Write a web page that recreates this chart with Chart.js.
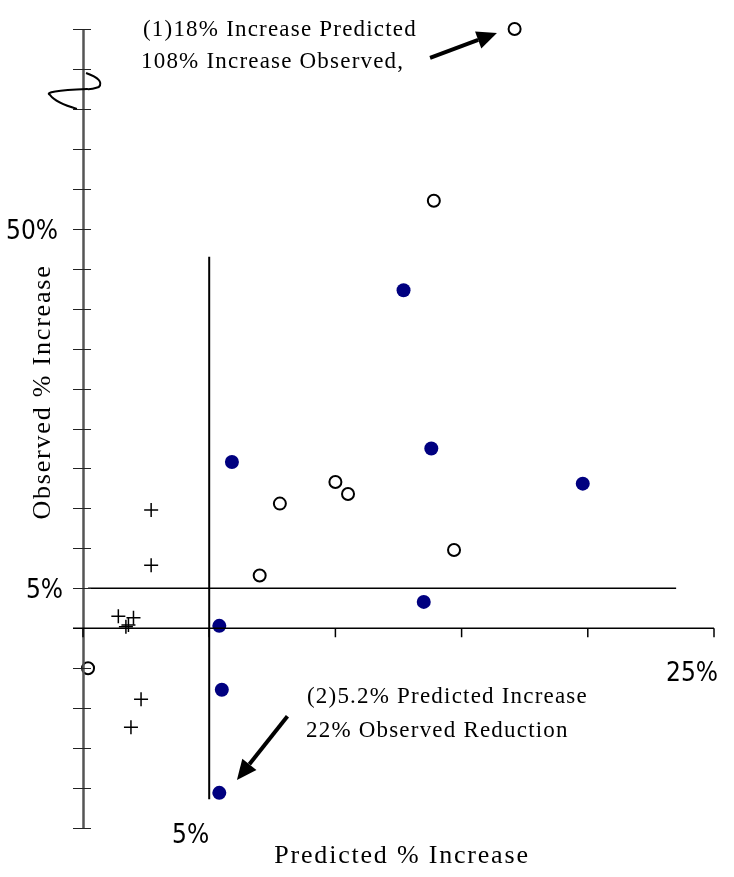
<!DOCTYPE html>
<html>
<head>
<meta charset="utf-8">
<script src="https://cdn.jsdelivr.net/npm/chart.js@4.4.1/dist/chart.umd.min.js"></script>
<style>
html, body { margin: 0; padding: 0; background: #fff; }
#wrap { width: 734px; height: 877px; }
</style>
</head>
<body>
<div id="wrap"><canvas id="chart" width="734" height="877"></canvas></div>
<script>
// Predicted % increase (x) vs observed % increase (y)
// top open circle sits at the axis break (real value 108%)
const openX = [17.1, 13.9, 10.0, 10.5, 7.8, 14.7, 7.0, 0.2];
const openY = [75, 53.5, 18.3, 16.8, 15.6, 9.8, 6.6, -5];
const filledX = [12.7, 13.8, 5.9, 19.8, 13.5, 5.4, 5.5, 5.4];
const filledY = [42.3, 22.5, 20.8, 18.1, 3.3, 0.3, -7.7, -20.6];
const plusX = [2.7, 2.7, 1.4, 2.0, 1.7, 1.8, 2.3, 1.9];
const plusY = [14.8, 7.9, 1.5, 1.3, 0.2, 0.4, -8.9, -12.4];

// 5% reference lines
const hLineX = [0.2, 23.5];
const hLineY = [5, 5];
const vLineX = [5, 5];
const vLineY = [46.5, -21.4];

// tick labels
const yLabelValues = [50, 5];
const yLabelText = ['50%', '5%'];
const xLabelValues = [5, 25];
const xLabelText = ['5%', '25%'];

// annotations (arrows anchored in data units)
const note1 = ['(1)18% Increase Predicted', '108% Increase Observed,'];
const note2 = ['(2)5.2% Predicted Increase', '22% Observed Reduction'];
const arrow1 = [13.75, 71.4, 16.4, 74.5];
const arrow2 = [8.1, -11.0, 6.1, -19.0];
// axis break squiggle
const breakX = [0.12, 0.71, 0.63, 0.16, -1.31, -0.24];
const breakY = [69.5, 68.4, 67.75, 67.5, 66.75, 65];

const toPts = (xs, ys) => xs.map((v, i) => ({x: v, y: ys[i]}));

const labelFont = '26px "Liberation Sans Narrow", "DejaVu Sans Condensed", sans-serif';
const titleFont = '26px "Liberation Serif", serif';
const noteFont = '23px "Liberation Serif", serif';

function drawArrow(ctx, x1, y1, x2, y2) {
    const ang = Math.atan2(y2 - y1, x2 - x1);
    const len = 20, half = 9;
    const bx = x2 - len * Math.cos(ang), by = y2 - len * Math.sin(ang);
    ctx.lineWidth = 4;
    ctx.beginPath();
    ctx.moveTo(x1, y1);
    ctx.lineTo(bx, by);
    ctx.stroke();
    ctx.beginPath();
    ctx.moveTo(x2, y2);
    ctx.lineTo(bx + half * Math.sin(ang), by - half * Math.cos(ang));
    ctx.lineTo(bx - half * Math.sin(ang), by + half * Math.cos(ang));
    ctx.closePath();
    ctx.fill();
}

const decorPlugin = {
    id: 'decor',
    afterDraw(chart) {
        const ctx = chart.ctx;
        const x = chart.scales.x, y = chart.scales.y;
        const x0 = x.getPixelForValue(0), y0 = y.getPixelForValue(0);
        const xEnd = x.getPixelForValue(25);
        const yTop = y.getPixelForValue(75), yBot = y.getPixelForValue(-25);
        const seg = (a, b, c, d) => { ctx.beginPath(); ctx.moveTo(a, b); ctx.lineTo(c, d); ctx.stroke(); };
        ctx.save();
        // y axis
        ctx.strokeStyle = '#555';
        ctx.lineWidth = 2.5;
        seg(x0 + 0.5, yTop, x0 + 0.5, yBot);
        ctx.strokeStyle = '#222';
        ctx.lineWidth = 1;
        y.ticks.forEach(t => {
            if (t.value === 0) return;
            const py = Math.round(y.getPixelForValue(t.value)) + 0.5;
            seg(x0 - 10, py, x0 + 8, py);
        });
        // x axis
        ctx.strokeStyle = '#000';
        ctx.lineWidth = 1.5;
        seg(x0 - 10, y0, xEnd, y0);
        x.ticks.forEach(t => {
            const px = x.getPixelForValue(t.value);
            seg(px, y0, px, y0 + 9);
        });
        // break squiggle
        const bp = breakX.map((v, i) => [x.getPixelForValue(v), y.getPixelForValue(breakY[i])]);
        ctx.lineWidth = 2;
        ctx.beginPath();
        ctx.moveTo(bp[0][0], bp[0][1]);
        ctx.quadraticCurveTo(bp[1][0] + 4, bp[1][1] - 2, bp[2][0], bp[2][1]);
        ctx.quadraticCurveTo(bp[3][0] + 2, bp[3][1] + 1, bp[3][0], bp[3][1]);
        ctx.quadraticCurveTo(bp[4][0] - 8, bp[4][1] - 4, bp[4][0], bp[4][1]);
        ctx.quadraticCurveTo(bp[4][0] + 6, bp[4][1] + 8, bp[5][0], bp[5][1]);
        ctx.stroke();

        ctx.fillStyle = '#000';
        ctx.strokeStyle = '#000';
        // tick labels
        ctx.font = labelFont;
        ctx.textAlign = 'right';
        ctx.textBaseline = 'alphabetic';
        const yLabelDx = [-25, -20];
        yLabelValues.forEach((v, i) => {
            ctx.fillText(yLabelText[i], x0 + yLabelDx[i], y.getPixelForValue(v) + 10);
        });
        const xLabelDy = [215, 53];
        const xLabelDx = [0, 4];
        xLabelValues.forEach((v, i) => {
            ctx.fillText(xLabelText[i], x.getPixelForValue(v) + xLabelDx[i], y0 + xLabelDy[i]);
        });
        // axis titles
        ctx.font = titleFont;
        ctx.letterSpacing = '1.8px';
        ctx.textAlign = 'center';
        ctx.fillText('Predicted % Increase', 402, 863);
        ctx.save();
        ctx.translate(50, 392);
        ctx.rotate(-Math.PI / 2);
        ctx.fillText('Observed % Increase', 0, 0);
        ctx.restore();
        // notes
        ctx.font = noteFont;
        ctx.letterSpacing = '1.2px';
        ctx.textAlign = 'left';
        ctx.fillText(note1[0], 143, 36);
        ctx.fillText(note1[1], 141, 68);
        ctx.fillText(note2[0], 307, 703);
        ctx.fillText(note2[1], 306, 737);
        ctx.letterSpacing = '0px';
        drawArrow(ctx, x.getPixelForValue(arrow1[0]), y.getPixelForValue(arrow1[1]),
            x.getPixelForValue(arrow1[2]), y.getPixelForValue(arrow1[3]));
        drawArrow(ctx, x.getPixelForValue(arrow2[0]), y.getPixelForValue(arrow2[1]),
            x.getPixelForValue(arrow2[2]), y.getPixelForValue(arrow2[3]));
        ctx.restore();
    }
};

const chart = new Chart(document.getElementById('chart'), {
    type: 'scatter',
    data: {
        datasets: [
            {
                label: 'open',
                data: toPts(openX, openY),
                pointStyle: 'circle',
                pointRadius: 6,
                borderWidth: 2,
                borderColor: '#000',
                backgroundColor: '#fff',
                clip: false
            },
            {
                label: 'filled',
                data: toPts(filledX, filledY),
                pointStyle: 'circle',
                pointRadius: 7,
                borderWidth: 0,
                borderColor: '#000080',
                backgroundColor: '#000080',
                clip: false
            },
            {
                label: 'plus',
                data: toPts(plusX, plusY),
                pointStyle: 'cross',
                pointRadius: 7,
                borderWidth: 1.5,
                borderColor: '#000',
                clip: false
            },
            {
                type: 'line',
                label: 'h5',
                data: toPts(hLineX, hLineY),
                borderColor: '#000',
                borderWidth: 1.5,
                pointRadius: 0,
                clip: false
            },
            {
                type: 'line',
                label: 'v5',
                data: toPts(vLineX, vLineY),
                borderColor: '#000',
                borderWidth: 2,
                pointRadius: 0,
                clip: false
            }
        ]
    },
    options: {
        responsive: false,
        animation: false,
        layout: { padding: { left: 83, right: 20, top: 29, bottom: 49 } },
        plugins: { legend: { display: false }, tooltip: { enabled: false } },
        scales: {
            x: { type: 'linear', min: 0, max: 25, ticks: { stepSize: 5 }, display: false },
            y: { type: 'linear', min: -25, max: 75, ticks: { stepSize: 5 }, display: false }
        }
    },
    plugins: [decorPlugin]
});
</script>
</body>
</html>
